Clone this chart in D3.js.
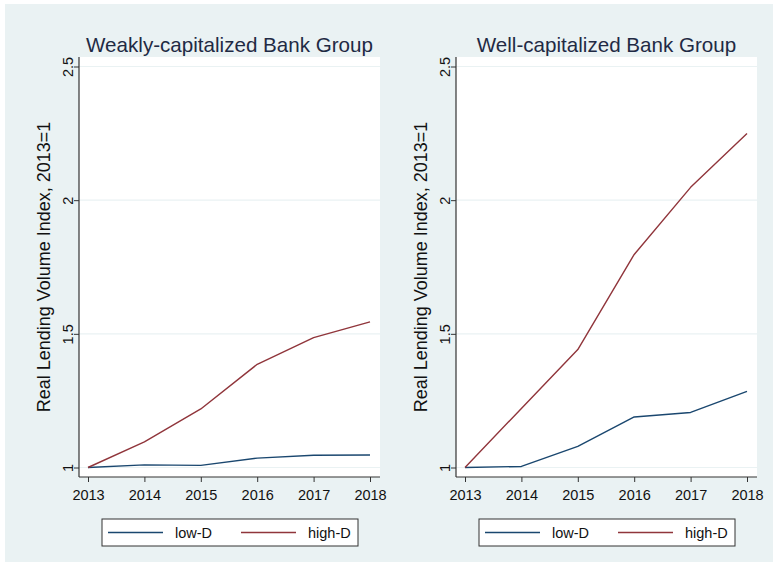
<!DOCTYPE html>
<html>
<head>
<meta charset="utf-8">
<script src="https://cdn.jsdelivr.net/npm/d3@7"></script>
<style>
  html, body { margin: 0; padding: 0; background: #ffffff; }
  svg { display: block; }
  svg text { font-family: "Liberation Sans", Arial, sans-serif; }
</style>
</head>
<body>
<svg id="chart" width="773" height="566"></svg>
<script>
// Real lending volume index (2013 = 1) by deposit group
const years = [2013, 2014, 2015, 2016, 2017, 2018];
const weakLowD  = [1, 1.010, 1.008, 1.035, 1.046, 1.047];
const weakHighD = [1, 1.096, 1.219, 1.386, 1.486, 1.545];
const wellLowD  = [1, 1.004, 1.079, 1.189, 1.206, 1.285];
const wellHighD = [1, 1.221, 1.441, 1.797, 2.048, 2.249];
const yTicks = [1, 1.5, 2, 2.5];
const seriesNames = ["low-D", "high-D"];
const panelTitles = ["Weakly-capitalized Bank Group", "Well-capitalized Bank Group"];
const yTitle = "Real Lending Volume Index, 2013=1";

const colors = { "low-D": "#1a476f", "high-D": "#90353b" };
const bg = "#eaf2f3";

const svg = d3.select("#chart");
svg.append("rect").attr("x", 5).attr("y", 4).attr("width", 768).attr("height", 558).attr("fill", bg);

const panels = [
  { left: 79, title: panelTitles[0], data: [weakLowD, weakHighD] },
  { left: 456, title: panelTitles[1], data: [wellLowD, wellHighD] }
];

const plotTop = 57, plotBottom = 477, plotW = 301;

panels.forEach(p => {
  const g = svg.append("g");
  const x = d3.scaleLinear().domain([2013, 2018]).range([p.left + 9, p.left + 291]);
  const y = d3.scaleLinear().domain([1, 2.5]).range([467.5, 66.5]);

  // plot region
  g.append("rect").attr("x", p.left).attr("y", plotTop)
    .attr("width", plotW).attr("height", plotBottom - plotTop).attr("fill", "#ffffff");

  // horizontal grid
  g.selectAll("line.grid").data(yTicks).join("line")
    .attr("class", "grid")
    .attr("x1", p.left).attr("x2", p.left + plotW)
    .attr("y1", d => y(d)).attr("y2", d => y(d))
    .attr("stroke", bg).attr("stroke-width", 1.2);

  // series lines
  const line = d3.line().x((d, i) => x(years[i])).y(d => y(d));
  p.data.forEach((vals, k) => {
    g.append("path").datum(vals)
      .attr("d", line)
      .attr("fill", "none")
      .attr("stroke", colors[seriesNames[k]])
      .attr("stroke-width", 1.4)
      .attr("stroke-linejoin", "round");
  });

  // y axis
  const ya = g.append("g").attr("transform", `translate(${p.left},0)`)
    .call(d3.axisLeft(y).tickValues(yTicks).tickSize(5).tickSizeOuter(0)
      .tickFormat(d => d3.format("")(d)))
    .attr("font-family", null).attr("font-size", null);
  ya.select(".domain").remove();
  ya.selectAll(".tick line").attr("stroke", "#333");
  ya.selectAll(".tick text")
    .attr("x", null).attr("dy", null)
    .attr("transform", "translate(-6,0) rotate(-90)")
    .attr("text-anchor", "middle")
    .style("font-size", "14.5px").attr("fill", "#111");
  g.append("line").attr("x1", p.left).attr("x2", p.left)
    .attr("y1", plotTop).attr("y2", plotBottom).attr("stroke", "#333").attr("stroke-width", 1.2);

  // x axis
  const xa = g.append("g").attr("transform", `translate(0,${plotBottom})`)
    .call(d3.axisBottom(x).tickValues(years).tickSize(5).tickSizeOuter(0).tickFormat(d3.format("d")))
    .attr("font-family", null).attr("font-size", null);
  xa.select(".domain").remove();
  xa.selectAll(".tick line").attr("stroke", "#333");
  xa.selectAll(".tick text")
    .attr("y", 22.5).attr("dy", null)
    .style("font-size", "14.5px").attr("fill", "#111");
  g.append("line").attr("x1", p.left).attr("x2", p.left + plotW)
    .attr("y1", plotBottom).attr("y2", plotBottom).attr("stroke", "#333").attr("stroke-width", 1.2);

  // titles
  g.append("text").attr("x", p.left + plotW / 2).attr("y", 52)
    .attr("text-anchor", "middle").style("font-size", "20.6px").attr("fill", "#1f2a44")
    .text(p.title);
  g.append("text")
    .attr("transform", `translate(${p.left - 29},${(plotTop + plotBottom) / 2}) rotate(-90)`)
    .attr("text-anchor", "middle").style("font-size", "18px").attr("fill", "#111")
    .text(yTitle);

  // legend
  const lx = p.left + 23, ly = 519;
  const lg = g.append("g").attr("transform", `translate(${lx},${ly})`);
  lg.append("rect").attr("x", 0).attr("y", 0).attr("width", 256).attr("height", 27)
    .attr("fill", "#ffffff").attr("stroke", "#333").attr("stroke-width", 1);
  seriesNames.forEach((name, k) => {
    const ox = 6 + k * 133;
    lg.append("line").attr("x1", ox).attr("x2", ox + 55).attr("y1", 13.5).attr("y2", 13.5)
      .attr("stroke", colors[name]).attr("stroke-width", 1.4);
    lg.append("text").attr("x", ox + 67).attr("y", 18.5)
      .style("font-size", "14.5px").attr("fill", "#111").text(name);
  });
});
</script>
</body>
</html>
